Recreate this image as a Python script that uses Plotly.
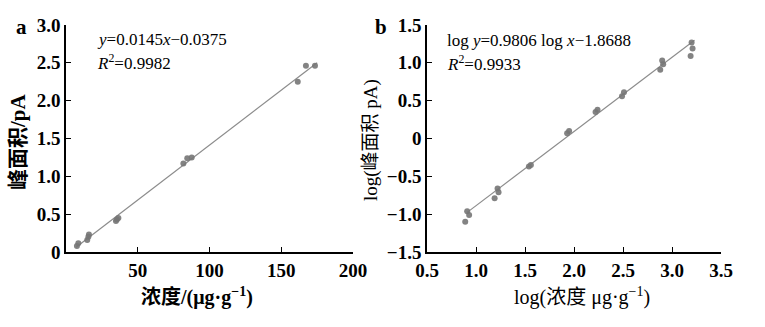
import plotly.graph_objects as go

# ---- panel a: peak area vs concentration ----
conc_a = [7.6, 8.6, 14.8, 15.6, 16.0, 34.8, 35.5, 36.5, 81.8, 84.5, 87.6, 161.5, 167.2, 173.5]
area_a = [0.08, 0.115, 0.16, 0.20, 0.23, 0.41, 0.43, 0.45, 1.17, 1.24, 1.25, 2.25, 2.46, 2.46]
fit_a = {"slope": 0.0145, "intercept": -0.0375, "x0": 7.0, "x1": 175.0}

# ---- panel b: log-log ----
logc_b = [0.89, 0.91, 0.93, 1.19, 1.22, 1.23, 1.54, 1.56, 1.93, 1.95,
          2.22, 2.24, 2.49, 2.51, 2.88, 2.90, 2.91, 3.19, 3.20, 3.21]
loga_b = [-1.10, -0.96, -1.01, -0.79, -0.66, -0.71, -0.37, -0.35, 0.07, 0.10,
          0.35, 0.38, 0.56, 0.61, 0.91, 1.03, 0.98, 1.09, 1.27, 1.19]
fit_b = {"slope": 0.9806, "intercept": -1.8688, "x0": 0.91, "x1": 3.23}

ticks_ax = [50, 100, 150, 200]
ticks_ay = [0, 0.5, 1.0, 1.5, 2.0, 2.5, 3.0]
labels_ay = ["0", "0.5", "1.0", "1.5", "2.0", "2.5", "3.0"]
ticks_bx = [0.5, 1.0, 1.5, 2.0, 2.5, 3.0, 3.5]
labels_bx = ["0.5", "1.0", "1.5", "2.0", "2.5", "3.0", "3.5"]
ticks_by = [-1.5, -1.0, -0.5, 0, 0.5, 1.0, 1.5]
labels_by = ["\u22121.5", "\u22121.0", "\u22120.5", "0", "0.5", "1.0", "1.5"]

W, H = 765, 327
SERIF = "Liberation Serif, Times New Roman, Noto Sans CJK SC, serif"
MIX = "Liberation Serif, Noto Sans CJK SC, serif"
PT = "#767676"
LN = "#8c8c8c"


def px(x):
    return x / W


def py(y):
    return 1 - y / H


fig = go.Figure()

fig.add_trace(go.Scatter(
    x=[fit_a["x0"], fit_a["x1"]],
    y=[fit_a["slope"] * v + fit_a["intercept"] for v in (fit_a["x0"], fit_a["x1"])],
    mode="lines", line=dict(color=LN, width=1.2), xaxis="x", yaxis="y", showlegend=False))
fig.add_trace(go.Scatter(
    x=conc_a, y=area_a, mode="markers",
    marker=dict(color=PT, size=6, opacity=0.9), xaxis="x", yaxis="y", showlegend=False))

fig.add_trace(go.Scatter(
    x=[fit_b["x0"], fit_b["x1"]],
    y=[fit_b["slope"] * v + fit_b["intercept"] for v in (fit_b["x0"], fit_b["x1"])],
    mode="lines", line=dict(color=LN, width=1.2), xaxis="x2", yaxis="y2", showlegend=False))
fig.add_trace(go.Scatter(
    x=logc_b, y=loga_b, mode="markers",
    marker=dict(color=PT, size=6, opacity=0.9), xaxis="x2", yaxis="y2", showlegend=False))

tickfont = dict(family=SERIF, size=19, color="black", weight="bold")
common = dict(showgrid=False, zeroline=False, showline=True, linecolor="black",
              linewidth=1.5, ticks="inside", ticklen=5, tickwidth=1.3,
              tickcolor="black", tickfont=tickfont, automargin=False)

yd = [py(252), py(25)]
fig.update_layout(
    width=W, height=H, margin=dict(l=0, r=0, t=0, b=0),
    paper_bgcolor="white", plot_bgcolor="white",
    xaxis=dict(domain=[px(66), px(353)], range=[0, 200], tickvals=ticks_ax,
               anchor="y", **common),
    yaxis=dict(domain=yd, range=[0, 3.0], tickvals=ticks_ay, ticktext=labels_ay,
               anchor="x", **common),
    xaxis2=dict(domain=[px(427), px(721)], range=[0.5, 3.5], tickvals=ticks_bx,
                ticktext=labels_bx, anchor="y2", **common),
    yaxis2=dict(domain=yd, range=[-1.5, 1.5], tickvals=ticks_by, ticktext=labels_by,
                anchor="x2", **common),
)

ann = []


def note(text, x, y, size=15, xanchor="left", angle=0, font=SERIF, weight="normal"):
    ann.append(dict(text=text, x=px(x), y=py(y), xref="paper", yref="paper",
                    xanchor=xanchor, yanchor="middle", showarrow=False, textangle=angle,
                    font=dict(family=font, size=size, color="black", weight=weight)))


note("a", 21, 27, size=21, xanchor="center", weight="bold")
note("b", 381, 27, size=21, xanchor="center", weight="bold")
note("<i>y</i>=0.0145<i>x</i>\u22120.0375", 95, 40, size=17)
note("<i>R</i><sup>2</sup>=0.9982", 95, 62, size=17)
note("log <i>y</i>=0.9806 log <i>x</i>\u22121.8688", 445, 41, size=17)
note("<i>R</i><sup>2</sup>=0.9933", 445, 63, size=17)
note("浓度/(μg·g<sup>−1</sup>)", 197, 296, size=20, xanchor="center", font=MIX, weight="bold")
note("log(浓度 μg·g<sup>−1</sup>)", 582, 296, size=20, xanchor="center", font=MIX)
note("峰面积/pA", 18, 142, size=21, xanchor="center", angle=-90, font=MIX, weight="bold")
note("log(峰面积 pA)", 371, 140, size=19, xanchor="center", angle=-90, font=MIX)

fig.update_layout(annotations=ann)
fig.write_html("out.html")
